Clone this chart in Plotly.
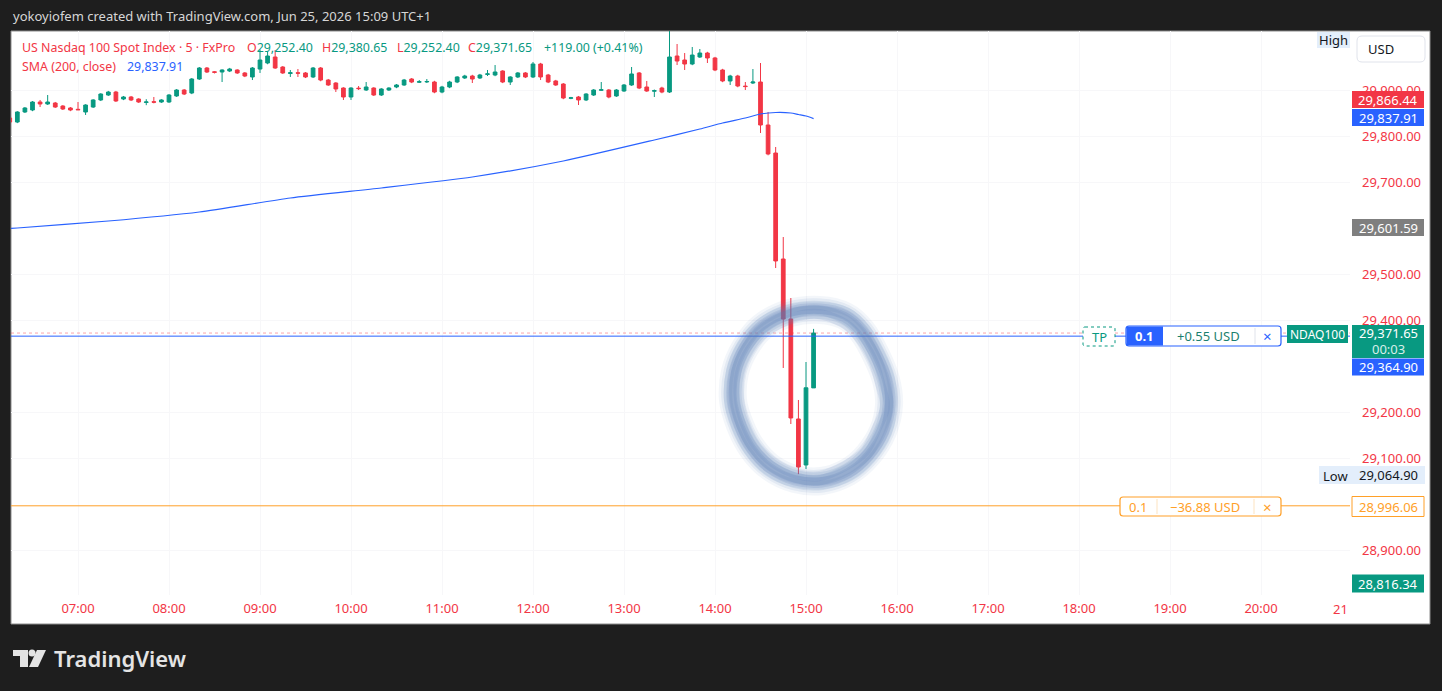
import plotly.graph_objects as go
import pandas as pd

# ---------------- data ----------------
DAY = "2026-06-25"
FIRST_BAR = "06:15"
BAR_MINUTES = 5

OPEN = [29839.1, 29830.4, 29852.2, 29856.5, 29873.9, 29869.6, 29871.7, 29865.2, 29860.9, 29858.0,
        29852.2, 29863.0, 29878.3, 29889.1, 29895.6, 29880.4, 29884.8, 29880.4, 29873.0, 29874.5,
        29873.9, 29873.9, 29887.0, 29900.0, 29893.5, 29923.9, 29947.8, 29939.5, 29939.1, 29941.3,
        29943.5, 29937.0, 29928.3, 29945.6, 29958.7, 29971.7, 29950.0, 29936.0, 29937.5, 29937.0,
        29928.3, 29947.8, 29921.7, 29915.2, 29904.3, 29884.8, 29904.0, 29900.0, 29904.3, 29889.1,
        29900.0, 29906.5, 29910.9, 29923.9, 29917.0, 29917.5, 29917.4, 29895.6, 29906.5, 29917.4,
        29926.1, 29930.4, 29926.1, 29934.0, 29932.6, 29941.3, 29917.4, 29928.3, 29937.0, 29928.3,
        29956.5, 29932.6, 29919.6, 29913.0, 29882.0, 29884.8, 29878.3, 29889.1, 29899.5, 29900.0,
        29887.0, 29897.8, 29910.9, 29937.0, 29906.5, 29897.5, 29904.3, 29895.6, 29973.9, 29965.2,
        29956.5, 29971.7, 29980.4, 29969.6, 29943.5, 29919.6, 29930.4, 29908.5, 29915.2, 29917.4,
        29823.9, 29763.0, 29532.6, 29402.2, 29184.8, 29084.8, 29252.40]
HIGH = [29841.3, 29854.0, 29863.0, 29876.0, 29878.3, 29889.1, 29874.0, 29867.0, 29863.0, 29873.9,
        29869.0, 29880.0, 29893.0, 29898.0, 29898.0, 29887.0, 29887.0, 29882.0, 29880.0, 29884.8,
        29880.0, 29891.0, 29902.0, 29902.0, 29926.0, 29950.0, 29950.0, 29941.0, 29945.0, 29948.0,
        29945.0, 29939.0, 29950.0, 29986.9, 29982.6, 29986.9, 29952.0, 29943.5, 29945.6, 29939.0,
        29950.0, 29950.0, 29924.0, 29917.0, 29906.0, 29906.0, 29908.7, 29917.4, 29906.0, 29904.0,
        29906.0, 29913.0, 29924.0, 29926.0, 29921.7, 29923.9, 29920.0, 29909.0, 29920.0, 29930.0,
        29933.0, 29933.0, 29935.0, 29943.5, 29954.3, 29943.0, 29930.0, 29939.0, 29939.0, 29960.9,
        29959.0, 29935.0, 29922.0, 29915.0, 29885.0, 29887.0, 29893.0, 29902.0, 29917.4, 29902.0,
        29902.0, 29913.0, 29950.0, 29939.0, 29919.6, 29901.0, 29907.0, 30052.0, 30000.0, 29980.4,
        29993.5, 29989.1, 29983.0, 29972.0, 29946.0, 29933.0, 29933.0, 29917.4, 29945.6, 29958.7,
        29852.2, 29776.1, 29580.4, 29447.8, 29226.1, 29308.7, 29380.65]
LOW = [29828.0, 29828.0, 29850.0, 29854.0, 29863.0, 29867.5, 29861.0, 29856.5, 29854.0, 29856.5,
       29845.7, 29861.0, 29876.0, 29887.0, 29874.0, 29878.0, 29876.0, 29872.0, 29867.0, 29871.0,
       29872.0, 29872.0, 29885.0, 29889.0, 29891.0, 29922.0, 29937.0, 29936.0, 29917.4, 29939.0,
       29935.0, 29928.0, 29921.7, 29937.0, 29956.0, 29946.0, 29935.0, 29928.3, 29928.3, 29926.0,
       29926.0, 29919.0, 29909.0, 29895.6, 29878.3, 29878.3, 29900.0, 29898.0, 29887.0, 29887.0,
       29898.0, 29904.0, 29909.0, 29915.0, 29915.2, 29915.2, 29893.0, 29893.0, 29904.0, 29915.0,
       29924.0, 29915.2, 29924.0, 29930.4, 29930.0, 29915.0, 29910.9, 29926.0, 29926.0, 29926.0,
       29921.7, 29915.0, 29909.0, 29880.0, 29880.0, 29867.4, 29876.0, 29887.0, 29898.0, 29882.0,
       29885.0, 29896.0, 29909.0, 29902.0, 29896.0, 29884.8, 29893.0, 29893.5, 29954.3, 29943.5,
       29954.0, 29969.6, 29958.7, 29941.0, 29917.0, 29910.9, 29906.0, 29900.0, 29913.0, 29806.5,
       29758.0, 29513.0, 29295.7, 29173.9, 29064.9, 29076.1, 29252.40]
CLOSE = [29830.4, 29852.2, 29860.9, 29873.9, 29869.6, 29873.9, 29863.0, 29858.7, 29856.5, 29857.0,
         29867.4, 29878.3, 29891.3, 29895.6, 29876.1, 29884.8, 29878.3, 29873.9, 29874.0, 29873.5,
         29878.3, 29889.1, 29900.0, 29891.3, 29923.9, 29947.8, 29939.1, 29938.5, 29943.5, 29945.6,
         29937.0, 29930.4, 29947.8, 29965.2, 29973.9, 29947.8, 29937.0, 29937.5, 29936.5, 29928.3,
         29947.8, 29921.7, 29910.9, 29902.2, 29884.8, 29904.3, 29903.0, 29906.5, 29889.1, 29902.2,
         29904.3, 29910.9, 29921.7, 29917.4, 29918.0, 29918.5, 29895.6, 29906.5, 29917.4, 29928.3,
         29930.4, 29923.9, 29932.6, 29935.0, 29939.1, 29917.4, 29928.3, 29937.0, 29928.3, 29956.5,
         29928.3, 29917.4, 29910.9, 29882.6, 29883.0, 29878.3, 29891.3, 29900.0, 29900.5, 29884.8,
         29900.0, 29910.9, 29934.8, 29904.3, 29897.8, 29898.5, 29895.6, 29971.7, 29963.0, 29956.5,
         29976.0, 29980.4, 29969.6, 29943.5, 29919.6, 29930.4, 29908.7, 29907.5, 29917.4, 29823.9,
         29760.9, 29528.3, 29402.2, 29187.0, 29080.4, 29252.65, 29371.65]

SMA_TIMES = ["06:15", "06:20", "07:20", "08:20", "09:20", "10:20", "11:20", "12:20", "13:20",
             "13:50", "14:05", "14:20", "14:30", "14:40", "14:50", "14:55", "15:00", "15:05"]
SMA_VALUES = [29598.9, 29600.0, 29615.2, 29634.8, 29665.2, 29687.0, 29710.9, 29745.7, 29791.3,
              29815.2, 29828.3, 29839.1, 29847.8, 29851.1, 29850.0, 29846.7, 29843.5, 29837.91]

# visible price-axis ticks (the others are hidden behind price labels in the reference)
Y_TICKS = [28900, 29100, 29200, 29400, 29500, 29700, 29800, 29900]

LAST_CLOSE = 29371.65
TP_PRICE = 29364.90
SL_PRICE = 28996.06
DAY_LOW = 29064.90
LABEL_RED = 29866.44
LABEL_GRAY = 29601.59
LABEL_GREEN = 28816.34

# ---------------- styling ----------------
RED = "#f23645"
GREEN = "#089981"
BLUE = "#2962ff"
ORANGE = "#ffa028"
FONT = "Noto Sans, DejaVu Sans, sans-serif"
BG = "#1e1e1e"

W, H = 1442, 691
L, R, T, B = 11, 1350, 31, 595


def px(x):
    return (x - L) / (R - L)


def py(y):
    return (B - y) / (B - T)


times = pd.date_range(f"{DAY} {FIRST_BAR}", periods=len(OPEN), freq=f"{BAR_MINUTES}min")
sma_x = [pd.Timestamp(f"{DAY} {t}") for t in SMA_TIMES]

fig = go.Figure()
fig.add_trace(go.Candlestick(
    x=times, open=OPEN, high=HIGH, low=LOW, close=CLOSE,
    increasing=dict(line=dict(color=GREEN, width=1), fillcolor=GREEN),
    decreasing=dict(line=dict(color=RED, width=1), fillcolor=RED),
    whiskerwidth=0, showlegend=False, hoverinfo="skip"))
fig.add_trace(go.Scatter(
    x=sma_x, y=SMA_VALUES, mode="lines",
    line=dict(color=BLUE, width=1.2, shape="spline", smoothing=0.6),
    showlegend=False, hoverinfo="skip"))

# axis ranges (time position of pixel edges / price per pixel)
t7 = pd.Timestamp(f"{DAY} 07:00")
px_per_hour = 91.0
x0 = t7 - pd.Timedelta(hours=(78 - L) / px_per_hour)
x1 = t7 + pd.Timedelta(hours=(R - 78) / px_per_hour)
ppx = 0.46  # px per point
y_lo = 29500 - (B - 274) / ppx
y_hi = 29500 + (274 - T) / ppx

shapes = []
annos = []


def rect(xa, xb, ya, yb, fill, line=None, lw=1, dash=None, layer="above"):
    shapes.append(dict(type="rect", xref="paper", yref="paper",
                       x0=px(xa), x1=px(xb), y0=py(yb), y1=py(ya),
                       fillcolor=fill, layer=layer,
                       line=dict(color=line if line else "rgba(0,0,0,0)", width=lw if line else 0,
                                 dash=dash)))


def rrect(xa, xb, ya, yb, r, fill, line=None, lw=1, dash=None):
    p = [f"M {px(xa + r)},{py(ya)}", f"L {px(xb - r)},{py(ya)}",
         f"Q {px(xb)},{py(ya)} {px(xb)},{py(ya + r)}", f"L {px(xb)},{py(yb - r)}",
         f"Q {px(xb)},{py(yb)} {px(xb - r)},{py(yb)}", f"L {px(xa + r)},{py(yb)}",
         f"Q {px(xa)},{py(yb)} {px(xa)},{py(yb - r)}", f"L {px(xa)},{py(ya + r)}",
         f"Q {px(xa)},{py(ya)} {px(xa + r)},{py(ya)}", "Z"]
    shapes.append(dict(type="path", xref="paper", yref="paper", path=" ".join(p),
                       fillcolor=fill, layer="above",
                       line=dict(color=line if line else "rgba(0,0,0,0)", width=lw if line else 0,
                                 dash=dash)))


def txt(x, y, s, color, size=13, anchor="center", weight="normal", family=FONT):
    annos.append(dict(x=px(x), y=py(y), xref="paper", yref="paper", text=s, showarrow=False,
                      xanchor=anchor, yanchor="middle",
                      font=dict(color=color, size=size, family=family, weight=weight)))


# white chart panel
rect(L, 1430, T, 624, "white", line="#8c8c8c", lw=1, layer="below")

# horizontal price lines
shapes.append(dict(type="line", xref="paper", yref="y", x0=0, x1=1, y0=LAST_CLOSE, y1=LAST_CLOSE,
                   line=dict(color="rgba(242,54,69,0.45)", width=1, dash="dot"), layer="above"))
shapes.append(dict(type="line", xref="paper", yref="y", x0=0, x1=1, y0=TP_PRICE, y1=TP_PRICE,
                   line=dict(color=BLUE, width=1), layer="above"))
shapes.append(dict(type="line", xref="paper", yref="y", x0=0, x1=1, y0=SL_PRICE, y1=SL_PRICE,
                   line=dict(color=ORANGE, width=1), layer="above"))


# blurry hand-drawn ring
def smooth_closed(pts):
    n = len(pts)
    seg = [f"M {px(pts[0][0])},{py(pts[0][1])}"]
    for i in range(n):
        p0, p1, p2, p3 = pts[(i - 1) % n], pts[i], pts[(i + 1) % n], pts[(i + 2) % n]
        c1 = (p1[0] + (p2[0] - p0[0]) / 6, p1[1] + (p2[1] - p0[1]) / 6)
        c2 = (p2[0] - (p3[0] - p1[0]) / 6, p2[1] - (p3[1] - p1[1]) / 6)
        seg.append(f"C {px(c1[0])},{py(c1[1])} {px(c2[0])},{py(c2[1])} {px(p2[0])},{py(p2[1])}")
    return " ".join(seg) + " Z"


ring = [(790, 313), (820, 310), (845, 316), (862, 331), (876, 355), (886, 380), (889, 405),
        (883, 431), (868, 455), (848, 472), (822, 481), (795, 479), (770, 467), (752, 448),
        (740, 425), (733, 400), (735, 372), (745, 348), (762, 327)]
ring2 = [(792, 316), (818, 312), (842, 320), (858, 333), (874, 358), (882, 383), (887, 407),
         (879, 428), (866, 453), (845, 468), (820, 478), (797, 476), (772, 464), (754, 446),
         (743, 424), (737, 399), (738, 373), (748, 349), (765, 330)]
ring3 = [(788, 311), (822, 308), (848, 314), (865, 330), (879, 353), (889, 378), (891, 404),
         (886, 433), (870, 458), (850, 475), (824, 483), (793, 481), (768, 470), (750, 451),
         (737, 427), (730, 401), (732, 371), (742, 346), (760, 325)]
path1 = smooth_closed(ring)
path2 = smooth_closed(ring2)
path3 = smooth_closed(ring3)
RC = "88,124,182"
for w, a in [(28, 0.07), (23, 0.10), (18, 0.14), (13, 0.18), (8, 0.2)]:
    shapes.append(dict(type="path", xref="paper", yref="paper", path=path1, layer="above",
                       line=dict(color=f"rgba({RC},{a})", width=w)))
for w, a in [(14, 0.12), (6, 0.14)]:
    shapes.append(dict(type="path", xref="paper", yref="paper", path=path2, layer="above",
                       line=dict(color=f"rgba({RC},{a})", width=w)))
for w, a in [(12, 0.10), (5, 0.12)]:
    shapes.append(dict(type="path", xref="paper", yref="paper", path=path3, layer="above",
                       line=dict(color=f"rgba({RC},{a})", width=w)))


# price axis labels
def plabel(yc, s, fill, color="white", line=None, h=17):
    rect(1352, 1424, yc - h / 2, yc + h / 2, fill, line=line)
    txt(1388, yc, s, color)


plabel(99.5, f"{LABEL_RED:,.2f}", RED)
plabel(117.5, f"{SMA_VALUES[-1]:,.2f}", BLUE)
plabel(227.5, f"{LABEL_GRAY:,.2f}", "#7f7f7f")
rect(1352, 1424, 325, 358, GREEN)
txt(1388, 333, f"{LAST_CLOSE:,.2f}", "white")
txt(1388, 349, "00:03", "#d7efe9")
plabel(367, f"{TP_PRICE:,.2f}", BLUE)
rect(1287, 1348, 325, 343, GREEN)
txt(1317.5, 334, "NDAQ100", "white", size=12)
rect(1319, 1352, 466, 484, "#e3eefb")
txt(1335.5, 475.5, "Low", "#131722")
rect(1352, 1425, 466, 484, "#e3eefb")
txt(1388.5, 475, f"{DAY_LOW:,.2f}", "#131722")
plabel(506.5, f"{SL_PRICE:,.2f}", "white", color=ORANGE, line=ORANGE, h=20)
plabel(583.5, f"{LABEL_GREEN:,.2f}", GREEN, h=18)
rect(1317, 1350, 32, 48, "#e3eefb")
txt(1333.5, 40, "High", "#131722")
rrect(1357, 1425, 36, 62, 5, "white", line="#e0e3eb")
txt(1366, 49, "USD", "#131722", anchor="left")

# position / order labels
rrect(1083, 1115, 327, 346, 2, "white", line=GREEN, dash="dot")
txt(1099, 336.5, "TP", GREEN)
rrect(1126, 1281, 326, 346, 3, "white", line=BLUE, lw=1.2)
rect(1126.5, 1163, 326.5, 345.5, BLUE)
txt(1144.5, 336, "0.1", "white", weight="bold")
shapes.append(dict(type="line", xref="paper", yref="paper", x0=px(1255), x1=px(1255),
                   y0=py(328), y1=py(344), line=dict(color="#e0e3eb", width=1), layer="above"))
txt(1208, 336, "+0.55 USD", "#1b7f6e")
txt(1267.5, 336, "×", BLUE, size=15)

rrect(1120, 1281, 497, 516, 3, "white", line=ORANGE, lw=1.2)
shapes.append(dict(type="line", xref="paper", yref="paper", x0=px(1157), x1=px(1157),
                   y0=py(499), y1=py(514), line=dict(color="#fde3c0", width=1), layer="above"))
shapes.append(dict(type="line", xref="paper", yref="paper", x0=px(1254), x1=px(1254),
                   y0=py(499), y1=py(514), line=dict(color="#fde3c0", width=1), layer="above"))
txt(1138, 506.5, "0.1", ORANGE)
txt(1205, 506.5, "\u221236.88 USD", ORANGE)
txt(1267.5, 506.5, "×", ORANGE, size=15)

# cut-off last time label
txt(1350, 609, "21", RED, anchor="right")

# header and legend
txt(11, 16, "yokoyiofem created with TradingView.com, Jun 25, 2026 15:09 UTC+1", "#d6d6d6",
    anchor="left")
LEG = 12.4
txt(20, 47, "US Nasdaq 100 Spot Index · 5 · FxPro", RED, anchor="left", size=LEG)
txt(245, 47, f"<span style='color:{RED}'>O</span>29,252.40", GREEN, anchor="left", size=LEG)
txt(320, 47, f"<span style='color:{RED}'>H</span>29,380.65", GREEN, anchor="left", size=LEG)
txt(395, 47, f"<span style='color:{RED}'>L</span>29,252.40", GREEN, anchor="left", size=LEG)
txt(466, 47, f"<span style='color:{RED}'>C</span>29,371.65", GREEN, anchor="left", size=LEG)
txt(542, 47, "+119.00 (+0.41%)", GREEN, anchor="left", size=LEG)
txt(20, 66, "SMA (200, close)", RED, anchor="left", size=LEG)
txt(125, 66, f"{SMA_VALUES[-1]:,.2f}", BLUE, anchor="left", size=LEG)

# TradingView logo
logo_col = "#e4e4e4"
rect(13, 28, 650, 656, logo_col, layer="above")
rect(20, 28, 650, 667, logo_col, layer="above")
shapes.append(dict(type="circle", xref="paper", yref="paper", x0=px(28.5), x1=px(35.5),
                   y0=py(656.5), y1=py(649.5), fillcolor=logo_col, line=dict(width=0)))
shapes.append(dict(type="path", xref="paper", yref="paper",
                   path=f"M {px(37)},{py(650)} L {px(46)},{py(650)} L {px(38)},{py(667)} L {px(29)},{py(667)} Z",
                   fillcolor=logo_col, line=dict(width=0)))
txt(52, 658, "TradingView", logo_col, size=22, anchor="left", weight=600)

fig.update_layout(
    template="none",
    width=W, height=H,
    paper_bgcolor=BG, plot_bgcolor="white",
    margin=dict(l=L, r=W - R, t=T, b=H - B, pad=0),
    showlegend=False,
    shapes=shapes, annotations=annos,
    xaxis=dict(type="date", range=[x0, x1], rangeslider=dict(visible=False),
               tickformat="%H:%M", dtick=3600000, tick0=f"{DAY} 07:00",
               showgrid=True, gridcolor="#f7f7f9", gridwidth=1, zeroline=False, showline=False,
               ticks="", automargin=False, ticklabelstandoff=4,
               tickfont=dict(color=RED, size=13, family=FONT)),
    yaxis=dict(side="right", range=[y_lo, y_hi], tickvals=Y_TICKS, tickformat=",.2f",
               showgrid=True, gridcolor="#f7f7f9", gridwidth=1, zeroline=False, showline=False,
               ticks="", automargin=False, ticklabelstandoff=11,
               tickfont=dict(color=RED, size=13, family=FONT)),
)

fig.write_html("out.html", config={"displayModeBar": False, "staticPlot": True},
               post_script="document.body.style.margin='0';document.body.style.background='#1e1e1e';document.body.style.overflow='hidden';")
